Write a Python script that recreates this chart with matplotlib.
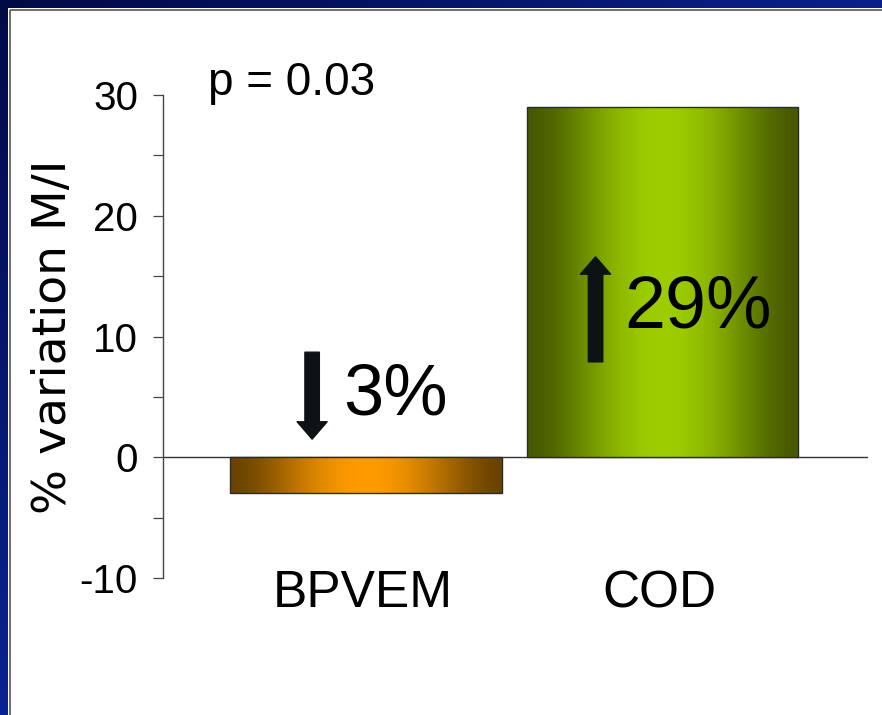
import numpy as np
import matplotlib.pyplot as plt
from matplotlib.patches import Rectangle
from matplotlib.colors import to_rgb

groups = ['BPVEM', 'COD']
variation = [-3, 29]
change_labels = ['3%', '29%']
bar_edge_colors = ['#6a4300', '#465800']
bar_mid_colors = ['#ff9b00', '#9dce00']
p_value_text = 'p = 0.03'
ylabel_text = '% variation M/I'
major_ticks = [-10, 0, 10, 20, 30]
major_tick_labels = ['-10', '0', '10', '20', '30']
minor_ticks = [-5, 5, 15, 25]

W, H = 882, 715
fig = plt.figure(figsize=(W / 100, H / 100), dpi=100)

# slide frame: navy gradient on top and left, white panel inside
bg = fig.add_axes([0, 0, 1, 1])
bg.set_axis_off()
yy, xx = np.mgrid[0:H, 0:W]
t = np.clip(0.9 * xx / W + 1.0 * yy / H, 0, 1)[..., None]
dark = np.array([0x02, 0x0a, 0x45]) / 255
light = np.array([0x0a, 0x23, 0x92]) / 255
bg.imshow(dark + (light - dark) * t, extent=(0, W, H, 0), aspect='auto')
bg.add_patch(Rectangle((8, 8), W, H, facecolor='white', edgecolor='none'))
bg.add_patch(Rectangle((9.5, 9.5), W, H, facecolor='none', edgecolor='#555555', lw=1.2))
bg.set_xlim(0, W)
bg.set_ylim(H, 0)

ax = fig.add_axes([163 / W, 137 / H, 705 / W, 483 / H])
ax.patch.set_alpha(0)

bars = ax.bar(range(len(groups)), variation, width=0.917, facecolor='none',
              edgecolor='#2b2b2b', lw=1, zorder=3)

# horizontal shading on each bar, clipped to the bar outline
u = np.linspace(0, 1, 300)
s = np.sin(np.pi * u) ** 1.6
for bar, c0, c1 in zip(bars, bar_edge_colors, bar_mid_colors):
    e = np.array(to_rgb(c0))
    m = np.array(to_rgb(c1))
    img = (e + (m - e) * s[:, None])[None, :, :]
    x0, w = bar.get_x(), bar.get_width()
    y0, y1 = sorted([bar.get_y(), bar.get_y() + bar.get_height()])
    im = ax.imshow(img, extent=(x0, x0 + w, y0, y1), aspect='auto',
                   interpolation='bilinear', zorder=2)
    im.set_clip_path(bar)

ax.axhline(0, color='#333333', lw=1, zorder=1)

# direction arrows and change labels
arrow_kw = dict(arrowstyle='simple,head_width=2.16,head_length=1.25,tail_width=1.04',
                color='#0d1315', shrinkA=0, shrinkB=0, mutation_scale=10)
ax.annotate('', xy=(-0.182, 1.5), xytext=(-0.182, 8.7), arrowprops=arrow_kw)
ax.annotate('', xy=(0.774, 16.6), xytext=(0.774, 7.9), arrowprops=arrow_kw)
ax.text(-0.078, 5.1, change_labels[0], fontsize=52, family='Liberation Sans',
        ha='left', va='center')
ax.text(0.872, 12.4, change_labels[1], fontsize=53, family='Liberation Sans',
        ha='left', va='center')

ax.text(-0.533, 31.0, p_value_text, fontsize=33, family='Liberation Sans',
        ha='left', va='center', clip_on=False)

for i, g in enumerate(groups):
    ax.text(i - 0.01, -11.3, g, fontsize=37, family='Liberation Sans',
            ha='center', va='center', clip_on=False)

ax.set_xlim(-0.685, 1.693)
ax.set_ylim(-10, 30)
ax.set_xticks([])
ax.set_yticks(major_ticks, major_tick_labels, fontsize=29,
              family='Liberation Sans')
ax.set_yticks(minor_ticks, minor=True)
ax.tick_params(axis='y', which='both', direction='out', length=7, width=0.9,
               color='#444444', pad=11)

for side in ['top', 'right', 'bottom']:
    ax.spines[side].set_visible(False)
ax.spines['left'].set_color('#444444')
ax.spines['left'].set_linewidth(1)

ax.set_ylabel(ylabel_text, fontsize=34, family='DejaVu Sans')
ax.yaxis.set_label_coords(-0.124, 0.5)

fig.savefig('out.png', dpi=100)
